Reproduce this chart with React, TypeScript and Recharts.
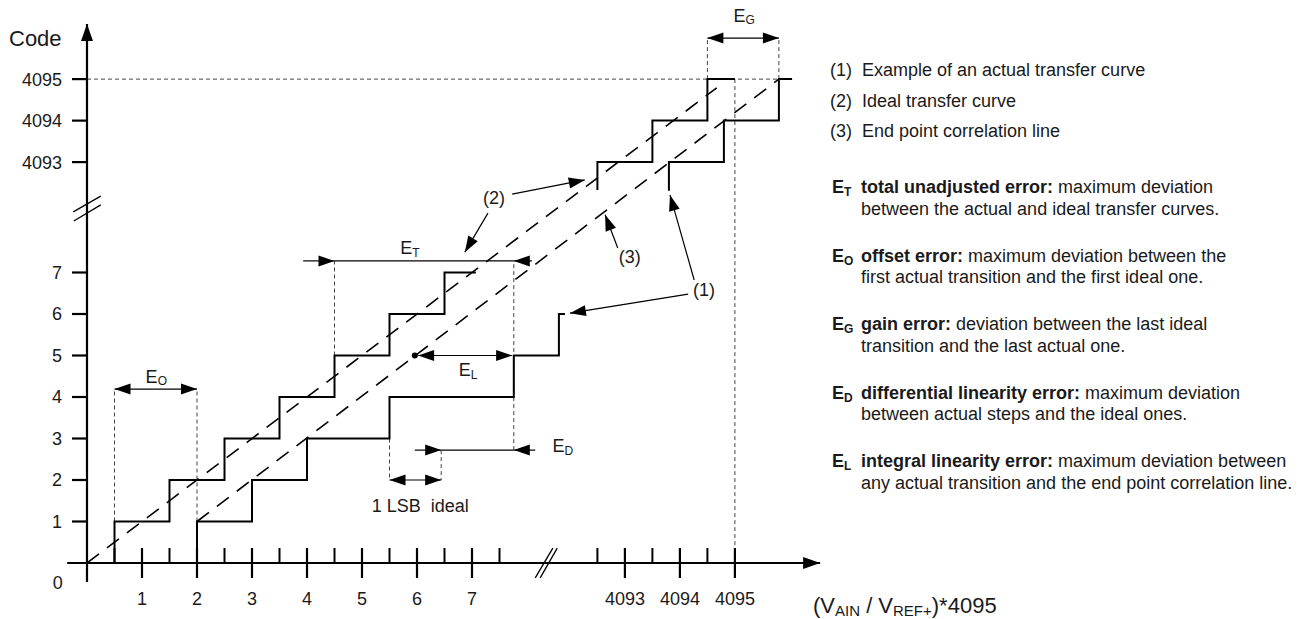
import { ComposedChart, Line, XAxis, YAxis, ReferenceLine, ReferenceDot } from 'recharts'

const FONT = '"Liberation Sans", Arial, Helvetica, sans-serif'
const INK = '#1a1a1a'

// Positions are in LSB units along the drawn axes. Both axes are broken:
// x between 7.5 and 9.28, y between 7 and 9.66.
const xMajorTicks = [1, 2, 3, 4, 5, 6, 7, 9.78, 10.78, 11.78]
const xMajorLabels = ['1', '2', '3', '4', '5', '6', '7', '4093', '4094', '4095']
const xMinorTicks = [0.5, 1.5, 2.5, 3.5, 4.5, 5.5, 6.5, 7.5, 9.28, 10.28, 11.28]
const yTicks = [1, 2, 3, 4, 5, 6, 7, 9.66, 10.66, 11.66]
const yLabels = ['1', '2', '3', '4', '5', '6', '7', '4093', '4094', '4095']

// (2) ideal transfer curve (stepAfter points)
const idealLow = [
  { x: 0.5, y: 0 }, { x: 0.5, y: 1 }, { x: 1.5, y: 2 }, { x: 2.5, y: 3 }, { x: 3.5, y: 4 },
  { x: 4.5, y: 5 }, { x: 5.5, y: 6 }, { x: 6.5, y: 7 }, { x: 7.07, y: 7 },
]
const idealHigh = [
  { x: 9.28, y: 8.99 }, { x: 9.28, y: 9.66 }, { x: 10.28, y: 10.66 }, { x: 11.28, y: 11.66 }, { x: 11.78, y: 11.66 },
]

// (1) example of an actual transfer curve
const actualLow = [
  { x: 2, y: 0 }, { x: 2, y: 1 }, { x: 3, y: 2 }, { x: 4, y: 3 }, { x: 5.5, y: 4 },
  { x: 7.76, y: 5 }, { x: 8.58, y: 6 }, { x: 8.69, y: 6 },
]
const actualHigh = [
  { x: 10.58, y: 8.97 }, { x: 10.58, y: 9.66 }, { x: 11.58, y: 10.66 }, { x: 12.58, y: 11.66 }, { x: 12.82, y: 11.66 },
]

// dashed straight lines: ideal (2) and end point correlation (3)
const idealLine = [{ x: 0, y: 0 }, { x: 11.45, y: 11.45 }]
const endPointLine = [{ x: 2, y: 1 }, { x: 12.58, y: 11.66 }]

// thin dashed guides [x1, y1, x2, y2]
const guides = [
  [0, 11.66, 12.82, 11.66],
  [0.5, 1, 0.5, 4.19], [2, 1, 2, 4.19],
  [4.5, 5, 4.5, 7.28], [7.76, 2.72, 7.76, 7.28],
  [5.5, 3, 5.5, 2], [6.44, 2.72, 6.44, 2],
  [11.28, 11.66, 11.28, 12.65], [12.58, 11.66, 12.58, 12.65],
  [11.78, 11.66, 11.78, 0.36],
]

// arrows [x1, y1, x2, y2, head]
const arrows: [number, number, number, number, string][] = [
  [0.5, 4.19, 2, 4.19, 'both'], // E_O
  [3.93, 7.28, 4.5, 7.28, 'end'], [4.5, 7.28, 7.76, 7.28, 'none'], [8.09, 7.28, 7.76, 7.28, 'end'], // E_T
  [6.02, 5, 7.73, 5, 'both'], // E_L
  [5.96, 2.72, 6.44, 2.72, 'end'], [6.44, 2.72, 7.76, 2.72, 'none'], [8.15, 2.72, 7.76, 2.72, 'end'], // E_D
  [5.5, 2, 6.44, 2, 'both'], // 1 LSB
  [11.28, 12.65, 12.58, 12.65, 'both'], // E_G
  [7.73, 8.89, 9.05, 9.23, 'end'], [7.29, 8.43, 6.87, 7.49, 'end'], // (2)
  [9.65, 7.59, 9.42, 8.39, 'end'], // (3)
  [11.04, 6.82, 10.6, 8.87, 'end'], [10.93, 6.48, 8.78, 6.02, 'end'], // (1)
]

const axisArrows: [number, number, number, number][] = [
  [0, -0.46, 0, 12.99],
  [-0.36, 0, 13.33, 0],
]

const breaks = [
  [-0.25, 8.46, 0.25, 8.84], [-0.24, 8.24, 0.25, 8.63],
  [8.15, -0.36, 8.47, 0.36], [8.24, -0.36, 8.55, 0.36],
]

// text notes: [x, y, parts (normal, sub, normal, ...), size, anchor]
const notes: [number, number, string[], number, string][] = [
  [-0.94, 12.65, ['Code'], 22, 'middle'],
  [-0.53, -0.48, ['0'], 18, 'middle'],
  [1.26, 4.5, ['E', 'O'], 18, 'middle'],
  [5.87, 7.59, ['E', 'T'], 18, 'middle'],
  [6.93, 4.65, ['E', 'L'], 18, 'middle'],
  [8.65, 2.82, ['E', 'D'], 18, 'middle'],
  [11.95, 13.19, ['E', 'G'], 18, 'middle'],
  [7.4, 8.8, ['(2)'], 18, 'middle'],
  [9.87, 7.37, ['(3)'], 18, 'middle'],
  [11.22, 6.58, ['(1)'], 18, 'middle'],
  [6.06, 1.37, ['1 LSB\u00a0 ideal'], 18, 'middle'],
  [13.2, -1.01, ['(V', 'AIN', ' / V', 'REF+', ')*4095'], 22, 'start'],
]

const curveKeys = ['(1)', '(2)', '(3)']
const curveNames = ['Example of an actual transfer curve', 'Ideal transfer curve', 'End point correlation line']
const errorSubs = ['T', 'O', 'G', 'D', 'L']
const errorTerms = [
  'total unadjusted error:',
  'offset error:',
  'gain error:',
  'differential linearity error:',
  'integral linearity error:',
]
const errorFirst = [
  ' maximum deviation',
  ' maximum deviation between the',
  ' deviation between the last ideal',
  ' maximum deviation',
  ' maximum deviation between',
]
const errorSecond = [
  'between the actual and ideal transfer curves.',
  'first actual transition and the first ideal one.',
  'transition and the last actual one.',
  'between actual steps and the ideal ones.',
  'any actual transition and the end point correlation line.',
]

function arrowShape(head: string, width: number, len = 16, half = 5.5) {
  return (p: any) => {
    const { x1, y1, x2, y2 } = p
    const d = Math.hypot(x2 - x1, y2 - y1) || 1
    const ux = (x2 - x1) / d
    const uy = (y2 - y1) / d
    const tri = (tx: number, ty: number, sx: number, sy: number) => {
      const bx = tx - sx * len
      const by = ty - sy * len
      return `${tx},${ty} ${bx - sy * half},${by + sx * half} ${bx + sy * half},${by - sx * half}`
    }
    return (
      <g>
        <line x1={x1} y1={y1} x2={x2} y2={y2} stroke="#000" strokeWidth={width} />
        {head !== 'none' && <polygon points={tri(x2, y2, ux, uy)} fill="#000" />}
        {head === 'both' && <polygon points={tri(x1, y1, -ux, -uy)} fill="#000" />}
      </g>
    )
  }
}

function noteShape(parts: string[], size: number, anchor: string) {
  const sub = Math.round(size * 0.68)
  const shift = size * 0.14
  return (p: any) => (
    <text
      x={p.cx}
      y={p.cy + size * 0.35}
      textAnchor={anchor}
      fontSize={size}
      fontFamily={FONT}
      fill={INK}
      style={{ whiteSpace: 'pre' }}
    >
      {parts.map((t, i) => (
        <tspan
          key={i}
          fontSize={i % 2 ? sub : size}
          dy={i === 0 ? 0 : i % 2 ? shift : -shift}
        >
          {t}
        </tspan>
      ))}
    </text>
  )
}

function XTick(props: any) {
  const { x, y, payload } = props
  const i = xMajorTicks.indexOf(payload.value)
  if (i < 0) {
    return <line x1={x} x2={x} y1={y - 15} y2={y} stroke="#000" strokeWidth={2} />
  }
  return (
    <g>
      <line x1={x} x2={x} y1={y - 15} y2={y + 15} stroke="#000" strokeWidth={2.2} />
      <text x={x} y={y + 42} textAnchor="middle" fontSize={18} fontFamily={FONT} fill={INK}>
        {xMajorLabels[i]}
      </text>
    </g>
  )
}

export default function App() {
  const allXTicks = [...xMinorTicks, ...xMajorTicks].sort((a, b) => a - b)
  const row = (c: number) => ({
    position: 'absolute' as const,
    top: c - 11,
    height: 22,
    lineHeight: '22px',
    whiteSpace: 'pre' as const,
  })

  return (
    <div
      style={{
        position: 'absolute',
        left: 0,
        top: 0,
        width: 1308,
        height: 619,
        background: '#fff',
        fontFamily: FONT,
        fontSize: 18,
        color: INK,
      }}
    >
      <ComposedChart width={1308} height={619} margin={{ top: 23.5, right: 484, bottom: 0, left: 0 }}>
        <XAxis
          type="number"
          dataKey="x"
          domain={[0, 13.4]}
          allowDataOverflow
          ticks={allXTicks}
          interval={0}
          tick={<XTick />}
          tickLine={false}
          tickSize={0}
          tickMargin={0}
          axisLine={false}
          height={56}
        />
        <YAxis
          type="number"
          domain={[0, 13]}
          allowDataOverflow
          ticks={yTicks}
          interval={0}
          tickFormatter={(v: number) => yLabels[yTicks.indexOf(v)] ?? ''}
          tick={{ fill: INK, fontSize: 18, fontFamily: FONT }}
          tickLine={{ stroke: '#000', strokeWidth: 2.2 }}
          tickSize={15}
          tickMargin={10}
          axisLine={false}
          width={87}
        />

        {guides.map((g, i) => (
          <ReferenceLine
            key={`g${i}`}
            segment={[{ x: g[0], y: g[1] }, { x: g[2], y: g[3] }]}
            stroke="#444"
            strokeWidth={1}
            strokeDasharray="4 3"
            ifOverflow="visible"
          />
        ))}

        <Line data={idealLine} dataKey="y" type="linear" stroke="#000" strokeWidth={1.6}
          strokeDasharray="15 10" dot={false} isAnimationActive={false} />
        <Line data={endPointLine} dataKey="y" type="linear" stroke="#000" strokeWidth={1.6}
          strokeDasharray="15 10" dot={false} isAnimationActive={false} />
        <Line data={idealLow} dataKey="y" type="stepAfter" stroke="#000" strokeWidth={2}
          dot={false} isAnimationActive={false} />
        <Line data={idealHigh} dataKey="y" type="stepAfter" stroke="#000" strokeWidth={2}
          dot={false} isAnimationActive={false} />
        <Line data={actualLow} dataKey="y" type="stepAfter" stroke="#000" strokeWidth={2}
          dot={false} isAnimationActive={false} />
        <Line data={actualHigh} dataKey="y" type="stepAfter" stroke="#000" strokeWidth={2}
          dot={false} isAnimationActive={false} />

        {axisArrows.map((a, i) => (
          <ReferenceLine
            key={`ax${i}`}
            segment={[{ x: a[0], y: a[1] }, { x: a[2], y: a[3] }]}
            ifOverflow="visible"
            shape={arrowShape('end', 2.2, 17, 6)}
          />
        ))}
        {breaks.map((b, i) => (
          <ReferenceLine
            key={`b${i}`}
            segment={[{ x: b[0], y: b[1] }, { x: b[2], y: b[3] }]}
            stroke="#000"
            strokeWidth={1.3}
            ifOverflow="visible"
          />
        ))}
        {arrows.map((a, i) => (
          <ReferenceLine
            key={`a${i}`}
            segment={[{ x: a[0], y: a[1] }, { x: a[2], y: a[3] }]}
            ifOverflow="visible"
            shape={arrowShape(a[4], 1.2)}
          />
        ))}

        <ReferenceDot x={5.96} y={5} r={3} fill="#000" stroke="none" ifOverflow="visible" />

        {notes.map((n, i) => (
          <ReferenceDot
            key={`n${i}`}
            x={n[0]}
            y={n[1]}
            ifOverflow="visible"
            shape={noteShape(n[2], n[3], n[4])}
          />
        ))}
      </ComposedChart>

      {curveKeys.map((k, i) => (
        <div key={k}>
          <div style={{ ...row(70 + i * 30.5), left: 830 }}>{k}</div>
          <div style={{ ...row(70 + i * 30.5), left: 862 }}>{curveNames[i]}</div>
        </div>
      ))}
      {errorSubs.map((s, i) => {
        const c = 187 + i * 68.5
        return (
          <div key={s}>
            <div style={{ ...row(c), left: 832, fontWeight: 'bold' }}>
              E<span style={{ fontSize: 12, verticalAlign: -3 }}>{s}</span>
            </div>
            <div style={{ ...row(c), left: 861 }}>
              <b>{errorTerms[i]}</b>
              {errorFirst[i]}
            </div>
            <div style={{ ...row(c + 21.5), left: 861 }}>{errorSecond[i]}</div>
          </div>
        )
      })}
    </div>
  )
}
